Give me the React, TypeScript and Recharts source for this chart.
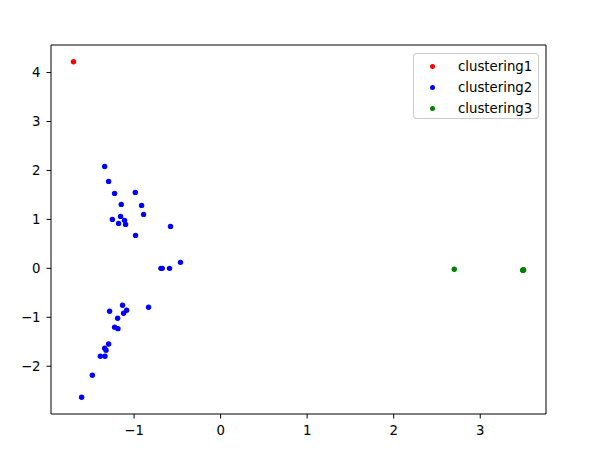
import {
  ScatterChart,
  Scatter,
  XAxis,
  YAxis,
  Legend,
  ReferenceArea,
} from "recharts";

// values
const clustering1X = [-1.7];
const clustering1Y = [4.22];

const clustering2X = [
  -1.34, -1.294, -1.225, -0.986, -1.148, -0.913, -0.89, -1.156, -1.251, -1.11,
  -1.179, -1.098, -0.983, -0.579, -0.69, -0.675, -0.59, -0.464, -1.133, -0.833,
  -1.283, -1.086, -1.121, -1.19, -1.225, -1.186, -1.294, -1.34, -1.324, -1.39,
  -1.336, -1.482, -1.606,
];
const clustering2Y = [
  2.08, 1.776, 1.531, 1.551, 1.306, 1.286, 1.102, 1.061, 1.0, 0.98, 0.918, 0.898,
  0.673, 0.857, 0.0, 0.0, 0.0, 0.122, -0.755, -0.796, -0.878, -0.857, -0.918,
  -1.02, -1.204, -1.232, -1.545, -1.633, -1.673, -1.796, -1.796, -2.184, -2.633,
];

const clustering3X = [2.7, 3.49, 3.5, 3.5];
const clustering3Y = [-0.02, -0.04, -0.03, -0.04];

const xTicks = [-1, 0, 1, 2, 3];
const yTicks = [-2, -1, 0, 1, 2, 3, 4];

const xDomain = [-1.96, 3.76];
const yDomain = [-2.976, 4.563];

const series = [
  { name: "clustering1", color: "#ff0000", xs: clustering1X, ys: clustering1Y },
  { name: "clustering2", color: "#0000ff", xs: clustering2X, ys: clustering2Y },
  { name: "clustering3", color: "#008000", xs: clustering3X, ys: clustering3Y },
];

const font = "'DejaVu Sans', sans-serif";
const fontSize = 13.3;
const fmt = (v: number) => String(v).replace("-", "\u2212");

const Dot = (props: any) => {
  const { cx, cy, fill } = props;
  return <circle cx={cx} cy={cy} r={2.7} fill={fill} />;
};

function MplLegend() {
  return (
    <div
      style={{
        width: 126,
        height: 66,
        boxSizing: "border-box",
        border: "1px solid #cccccc",
        borderRadius: 3,
        background: "rgba(255,255,255,0.8)",
        fontFamily: font,
        fontSize,
        color: "#000",
        paddingTop: 2,
      }}
    >
      {series.map((s) => (
        <div
          key={s.name}
          style={{ display: "flex", alignItems: "center", height: 21, lineHeight: "21px" }}
        >
          <span
            style={{
              display: "inline-block",
              width: 5,
              height: 5,
              borderRadius: "50%",
              background: s.color,
              marginLeft: 16,
              marginRight: 23,
            }}
          />
          <span>{s.name}</span>
        </div>
      ))}
    </div>
  );
}

export default function App() {
  return (
    <div style={{ position: "absolute", left: 0, top: 0, background: "#fff" }}>
      <ScatterChart
        width={598}
        height={452}
        margin={{ top: 45, right: 52, bottom: 0, left: 0 }}
      >
        <XAxis
          type="number"
          dataKey="x"
          domain={xDomain}
          ticks={xTicks}
          tickFormatter={fmt}
          allowDataOverflow
          height={38}
          axisLine={false}
          tickLine={{ stroke: "#000" }}
          tickSize={4.5}
          tickMargin={7}
          tick={{ fill: "#000", fontSize, fontFamily: font }}
        />
        <YAxis
          type="number"
          dataKey="y"
          domain={yDomain}
          ticks={yTicks}
          tickFormatter={fmt}
          allowDataOverflow
          width={51}
          axisLine={false}
          tickLine={{ stroke: "#000" }}
          tickSize={4.5}
          tickMargin={6}
          tick={{ fill: "#000", fontSize, fontFamily: font }}
        />
        {/* axes frame */}
        <ReferenceArea
          x1={xDomain[0]}
          x2={xDomain[1]}
          y1={yDomain[0]}
          y2={yDomain[1]}
          fill="none"
          fillOpacity={0}
          stroke="#000"
          strokeWidth={1}
          ifOverflow="visible"
        />
        <Legend
          layout="vertical"
          align="center"
          verticalAlign="middle"
          content={() => <MplLegend />}
          wrapperStyle={{ position: "absolute", left: 413, top: 53, width: 126, height: 66 }}
        />
        {series.map((s) => (
          <Scatter
            key={s.name}
            name={s.name}
            data={s.xs.map((x, i) => ({ x, y: s.ys[i] }))}
            fill={s.color}
            shape={<Dot />}
            isAnimationActive={false}
          />
        ))}
      </ScatterChart>
    </div>
  );
}
